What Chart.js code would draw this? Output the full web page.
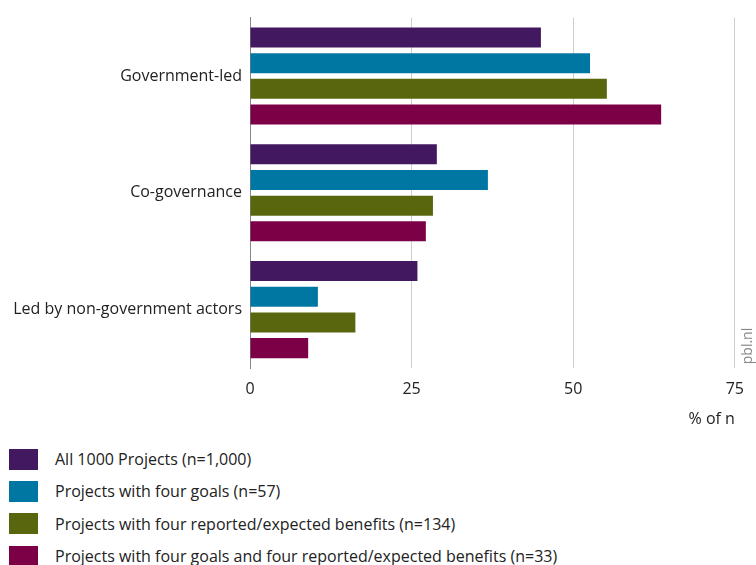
<!DOCTYPE html>
<html>
<head>
<meta charset="utf-8">
<script src="https://cdn.jsdelivr.net/npm/chart.js@4/dist/chart.umd.min.js"></script>
<style>
  body { margin: 0; background: #fff; font-family: "Open Sans", sans-serif; }
  #wrap { position: relative; width: 756px; height: 565px; }
  #chartBox { position: absolute; left: 0; top: 0; width: 756px; height: 440px; }
  #legend { position: absolute; left: 9px; top: 443px; }
  .legendItem { display: flex; align-items: center; height: 32.3px; }
  .legendBox { width: 29px; height: 21px; margin-right: 17px; }
  .legendText { font-size: 16px; color: #222; }
</style>
</head>
<body>
<div id="wrap">
  <div id="chartBox"><canvas id="chart"></canvas></div>
  <div id="legend"></div>
</div>
<script>
const categories = ["Government-led", "Co-governance", "Led by non-government actors"];
const seriesNames = [
  "All 1000 Projects (n=1,000)",
  "Projects with four goals (n=57)",
  "Projects with four reported/expected benefits (n=134)",
  "Projects with four goals and four reported/expected benefits (n=33)"
];
const allProjects = [45.0, 28.9, 25.9];
const fourGoals = [52.6, 36.8, 10.5];
const fourBenefits = [55.2, 28.3, 16.3];
const goalsAndBenefits = [63.6, 27.2, 9.0];
const colors = ["#421860", "#0077a2", "#5a660d", "#7c0046"];
const xTicks = [0, 25, 50, 75];

const seriesValues = [allProjects, fourGoals, fourBenefits, goalsAndBenefits];

const textColor = "#222";
const font = { family: "'Open Sans', sans-serif", size: 16 };

const sourcePlugin = {
  id: "sourceText",
  afterDraw(chart) {
    const ctx = chart.ctx;
    ctx.save();
    ctx.translate(748, 346);
    ctx.rotate(-Math.PI / 2);
    ctx.font = "14px 'Open Sans', sans-serif";
    ctx.fillStyle = "#888";
    ctx.textAlign = "center";
    ctx.textBaseline = "middle";
    ctx.fillText("pbl.nl", 0, 0);
    ctx.restore();
  }
};

const chart = new Chart(document.getElementById("chart"), {
  type: "bar",
  data: {
    labels: categories,
    datasets: seriesNames.map((name, i) => ({
      label: name,
      data: seriesValues[i],
      backgroundColor: colors[i],
      borderWidth: 0,
      categoryPercentage: 0.88,
      barPercentage: 0.78
    }))
  },
  options: {
    indexAxis: "y",
    responsive: true,
    maintainAspectRatio: false,
    animation: false,
    layout: { padding: { top: 15, right: 21, bottom: 11, left: 0 } },
    plugins: {
      legend: { display: false },
      tooltip: { enabled: false }
    },
    scales: {
      x: {
        min: 0,
        max: 75,
        afterBuildTicks(scale) {
          scale.ticks = xTicks.map(v => ({ value: v }));
        },
        afterFit(scale) { scale.height = 61; },
        grid: {
          drawTicks: false,
          color: ctx => (ctx.tick && ctx.tick.value === 0 ? "#888" : "#cfcfcf"),
          lineWidth: 1
        },
        border: { display: false },
        ticks: { color: textColor, font: font, padding: 12, maxRotation: 0 },
        title: {
          display: true,
          text: "% of n",
          align: "end",
          color: textColor,
          font: font,
          padding: { top: 0, bottom: 0 }
        }
      },
      y: {
        afterFit(scale) { scale.width = 250; },
        grid: { display: false, drawTicks: false },
        border: { display: true, color: "#888", width: 1 },
        ticks: { color: textColor, font: font, padding: 8 }
      }
    }
  },
  plugins: [sourcePlugin]
});

const legend = document.getElementById("legend");
chart.data.datasets.forEach(ds => {
  const item = document.createElement("div");
  item.className = "legendItem";
  item.innerHTML = `<div class="legendBox" style="background:${ds.backgroundColor}"></div><span class="legendText">${ds.label}</span>`;
  legend.appendChild(item);
});
</script>
</body>
</html>
